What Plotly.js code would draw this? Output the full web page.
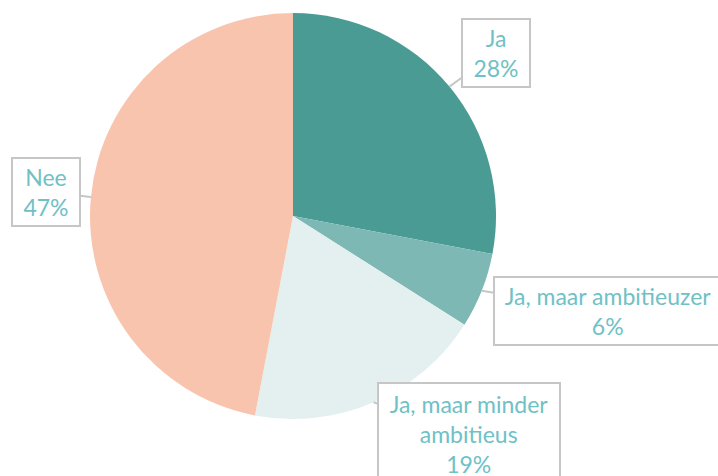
<!DOCTYPE html>
<html><head><meta charset="utf-8">
<script src="https://cdn.plot.ly/plotly-3.0.1.min.js"></script>
<style>html,body{margin:0;padding:0;background:#fff}#chart{width:718px;height:476px}</style>
</head><body><div id="chart"></div>
<script>
const categories = ["Ja", "Ja, maar ambitieuzer", "Ja, maar minder ambitieus", "Nee"];
const labelTexts = ["Ja", "Ja, maar ambitieuzer", "Ja, maar minder<br>ambitieus", "Nee"];
const values = [28, 6, 19, 47];
const colors = ["#4a9b93", "#7db8b5", "#e3f0ef", "#f8c4ae"];

const W = 718, H = 476;
const cxp = 293, cyp = 216, R = 203;
// callout box centres and sizes (px)
const boxes = [
  {cx: 496, cy: 53, w: 66, h: 66},
  {cx: 608, cy: 311, w: 226, h: 66},
  {cx: 469, cy: 434, w: 180, h: 100},
  {cx: 46, cy: 192, w: 66, h: 66}
];
const total = values.reduce((a, b) => a + b, 0);
let cum = 0;
const annotations = values.map((v, i) => {
  const mid = (cum + v / 2) / total * 2 * Math.PI; cum += v;
  const tx = cxp + R * Math.sin(mid), ty = cyp - R * Math.cos(mid);
  const b = boxes[i];
  return {
    xref: 'paper', yref: 'paper', x: tx / W, y: 1 - ty / H,
    ax: b.cx - tx, ay: b.cy - ty, axref: 'pixel', ayref: 'pixel',
    text: labelTexts[i] + '<br>' + Math.round(v / total * 100) + '%',
    showarrow: true, arrowhead: 0, arrowwidth: 2, arrowcolor: '#c6c6c6', standoff: 0,
    bordercolor: '#c6c6c6', borderwidth: 2, borderpad: 0, bgcolor: '#ffffff',
    width: b.w, height: b.h, align: 'center', valign: 'middle',
    font: {family: 'Lato, sans-serif', size: 23, color: '#6fc1c6'}
  };
});

const trace = {
  type: 'pie', labels: categories, values: values, sort: false, direction: 'clockwise', rotation: 0,
  marker: {colors: colors, line: {width: 0}}, textinfo: 'none', hoverinfo: 'label+percent',
  domain: {x: [(cxp - R) / W, (cxp + R) / W], y: [1 - (cyp + R) / H, 1 - (cyp - R) / H]}
};
Plotly.newPlot('chart', [trace], {
  width: W, height: H, margin: {l: 0, r: 0, t: 0, b: 0}, showlegend: false,
  paper_bgcolor: '#fff', annotations: annotations
}, {displayModeBar: false, staticPlot: true});
</script></body></html>
